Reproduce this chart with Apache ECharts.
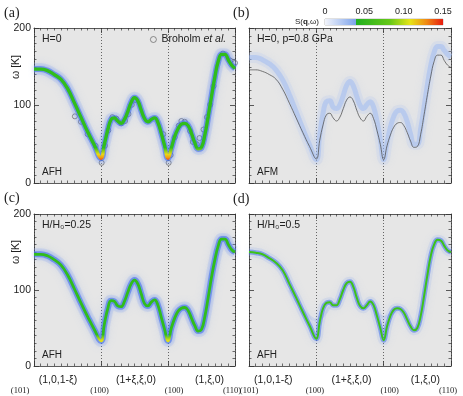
<!DOCTYPE html>
<html>
<head>
<meta charset="utf-8">
<script src="https://cdn.jsdelivr.net/npm/echarts@6/dist/echarts.min.js"></script>
<style>
  html, body { margin: 0; background: #fff; }
  #chart { width: 463px; height: 396px; }
</style>
</head>
<body>
<div id="chart"></div>
<script>
// q along the path (101)->(100)->(100)->(110), one unit per leg
var qPath = [0, 0.1, 0.2, 0.3, 0.4, 0.5, 0.6, 0.7, 0.8, 0.9, 1.0,
  1.05, 1.1, 1.15, 1.2, 1.25, 1.3, 1.35, 1.4, 1.45, 1.5, 1.55, 1.6, 1.65, 1.7, 1.75, 1.8, 1.85, 1.9, 1.95, 2.0,
  2.05, 2.1, 2.15, 2.2, 2.25, 2.3, 2.35, 2.4, 2.45, 2.5, 2.55, 2.6, 2.65, 2.7, 2.75, 2.8, 2.85, 2.9, 2.95, 3.0];
// (a) H=0
var omegaH0 = [147, 147, 145, 140, 134, 122, 104, 85, 66, 49, 32,
  50, 68, 82, 84, 80, 77, 82, 92, 104, 110, 106, 94, 83, 79, 82, 84, 78, 64, 48, 32,
  45, 60, 70, 76, 77, 74, 64, 52, 44, 46, 62, 86, 112, 137, 157, 166, 166, 159, 152, 148];
// (b) p=0.8 GPa, and the ambient curve drawn thin
var omegaP = [162, 162, 159, 154, 146, 133, 114, 92, 70, 49, 30,
  62, 90, 105, 106, 98, 96, 101, 113, 126, 131, 125, 112, 100, 96, 101, 105, 98, 80, 56, 30,
  52, 72, 86, 93, 94, 90, 79, 63, 50, 50, 70, 98, 127, 152, 169, 176, 176, 171, 166, 163];
var omegaRef = [146, 146, 144, 140, 134, 121, 103, 84, 65, 47, 31,
  55, 75, 88, 90, 84, 80, 85, 96, 107, 111, 106, 94, 84, 80, 86, 90, 83, 68, 50, 30,
  48, 62, 72, 77, 78, 74, 65, 54, 46, 47, 63, 88, 114, 138, 157, 165, 165, 158, 152, 149];
// (c) H/H0=0.25
var omegaC = [147, 147, 145, 140, 133, 120, 102, 83, 65, 48, 33,
  55, 75, 86, 85, 79, 78, 85, 97, 108, 113, 108, 95, 82, 79, 84, 87, 80, 64, 48, 33,
  50, 63, 72, 76, 77, 73, 63, 53, 46, 48, 65, 90, 117, 140, 158, 167, 167, 160, 153, 150];
// (d) H/H0=0.5
var omegaD = [150, 149, 147, 142, 136, 126, 108, 90, 71, 53, 36,
  58, 76, 83, 84, 80, 80, 88, 100, 109, 111, 104, 90, 79, 76, 80, 85, 80, 66, 50, 34,
  52, 66, 74, 76, 75, 70, 61, 52, 47, 50, 66, 92, 120, 145, 160, 166, 165, 158, 152, 150];
// faint extra branches in (d)
var qGhost1 = [0.6, 0.7, 0.8, 0.9, 1.0, 1.1, 1.2];
var wGhost1 = [100, 86, 74, 65, 60, 66, 78];
var qGhost2 = [1.85, 1.9, 2.0, 2.1, 2.2];
var wGhost2 = [78, 70, 64, 68, 74];
// Broholm et al. data points
var qExp = [0.61, 0.70, 0.80, 0.92, 1.01, 1.06, 1.11, 1.17, 1.23, 1.30, 1.36, 1.41, 1.46, 1.51,
  1.93, 2.01, 2.04, 2.10, 2.16, 2.20, 2.25, 2.33, 2.37, 2.43, 2.47, 2.53, 2.58, 2.63, 2.68, 2.82, 2.93, 3.0];
var wExp = [86, 79, 63, 48, 26, 48, 68, 85, 83, 77, 80, 89, 101, 107,
  63, 26, 36, 59, 74, 80, 79, 67, 53, 50, 58, 69, 85, 101, 125, 167, 158, 155];
var pathLabels = ['(101)', '(1,0,1-ξ)', '(100)', '(1+ξ,ξ,0)', '(100)', '(1,ξ,0)', '(110)'];
var cbTicks = [0, 0.05, 0.10, 0.15];

var chart = echarts.init(document.getElementById('chart'));

function pts(q, w) {
  return q.map(function (v, i) { return [v, w[i]]; });
}
// vertical colour ramp over the branch's own energy range: green, yellow and red at the soft minima
function heat(w, levels, colors) {
  var hi = Math.max.apply(null, w), lo = Math.min.apply(null, w);
  var off = function (v) { return Math.min(1, Math.max(0, (hi - v) / (hi - lo))); };
  var stops = [{offset: 0, color: colors[0]}];
  levels.forEach(function (v, k) { stops.push({offset: off(v), color: colors[k]}); });
  stops.push({offset: 1, color: colors[colors.length - 1]});
  return new echarts.graphic.LinearGradient(0, 0, 0, 1, stops);
}

var grids = [
  {left: 34, top: 28, width: 201, height: 155},
  {left: 249, top: 28, width: 202, height: 155},
  {left: 34, top: 214, width: 201, height: 152},
  {left: 249, top: 214, width: 202, height: 152}
];
var ink = '#333';
var xAxes = [], yAxes = [], series = [];

grids.forEach(function (g, i) {
  g.show = true;
  g.backgroundColor = '#e6e6e6';
  g.borderWidth = 0;
  ['bottom', 'top'].forEach(function (pos) {
    xAxes.push({
      type: 'value', gridIndex: i, min: 0, max: 3, interval: 1, position: pos,
      axisLine: {onZero: false, lineStyle: {color: ink, width: 0.8}},
      axisTick: {inside: true, length: 5, lineStyle: {color: ink, width: 0.8}},
      minorTick: {show: true, splitNumber: 10, length: 2.5, lineStyle: {color: ink, width: 0.7}},
      axisLabel: {show: false},
      splitLine: {show: pos === 'bottom', lineStyle: {color: '#444', type: [1, 2], width: 0.8}}
    });
  });
  ['left', 'right'].forEach(function (pos) {
    yAxes.push({
      type: 'value', gridIndex: i, min: 0, max: 200, interval: 100, position: pos,
      axisLine: {onZero: false, lineStyle: {color: ink, width: 0.8}},
      axisTick: {inside: true, length: 5, lineStyle: {color: ink, width: 0.8}},
      minorTick: {show: true, splitNumber: 10, length: 2.5, lineStyle: {color: ink, width: 0.7}},
      axisLabel: {show: pos === 'left' && i % 2 === 0, fontSize: 10.5, color: '#222', margin: 3,
        fontFamily: 'Liberation Sans'},
      splitLine: {show: false}
    });
  });
});

function band(i, w, q, styles) {
  styles.forEach(function (ls) {
    series.push({
      type: 'line', xAxisIndex: 2 * i, yAxisIndex: 2 * i, data: pts(q, w),
      smooth: 0.45, showSymbol: false, silent: true, lineStyle: ls
    });
  });
}

var halo = [
  {width: 12, color: 'rgba(120,155,240,0.16)', shadowBlur: 10, shadowColor: 'rgba(110,150,240,0.55)'},
  {width: 6, color: 'rgba(70,115,235,0.6)', shadowBlur: 4, shadowColor: 'rgba(70,115,235,0.6)'}
];
// (a)
band(0, omegaH0, qPath, halo);
band(0, omegaH0, qPath, [{width: 3.4, color: heat(omegaH0, [54, 48, 40, 36],
  ['#30bd1c', '#30bd1c', '#e6da18', '#f0a014', '#ec3410'])}]);
series.push({
  name: 'Broholm et al.', type: 'scatter', xAxisIndex: 0, yAxisIndex: 0,
  data: pts(qExp, wExp), symbol: 'circle', symbolSize: 5, silent: true,
  itemStyle: {color: 'rgba(230,230,230,0.2)', borderColor: '#555', borderWidth: 0.8}
});
// (b)
band(1, omegaP, qPath, [
  {width: 11, color: 'rgba(165,190,245,0.18)', shadowBlur: 8, shadowColor: 'rgba(150,180,245,0.45)'},
  {width: 5, color: 'rgba(150,182,244,0.45)'}
]);
band(1, omegaRef, qPath, [{width: 0.8, color: '#555'}]);
// (c)
band(2, omegaC, qPath, halo);
band(2, omegaC, qPath, [{width: 2.8, color: heat(omegaC, [50, 44, 37, 34],
  ['#30bd1c', '#30bd1c', '#dcde1a', '#dcde1a', '#f0a818'])}]);
// (d)
band(3, wGhost1, qGhost1, [{width: 3, color: 'rgba(120,155,240,0.18)'}]);
band(3, wGhost2, qGhost2, [{width: 3, color: 'rgba(120,155,240,0.18)'}]);
band(3, omegaD, qPath, [
  {width: 10, color: 'rgba(120,155,240,0.14)', shadowBlur: 8, shadowColor: 'rgba(110,150,240,0.5)'},
  {width: 5, color: 'rgba(70,115,235,0.55)'}
]);
band(3, omegaD, qPath, [{width: 2, color: '#3cc21a'}]);

// colour bar
grids.push({left: 325, top: 19, width: 118, height: 6, show: true, borderColor: '#999', borderWidth: 0.6});
xAxes.push({
  type: 'value', gridIndex: 4, min: 0, max: 0.15, interval: 0.05, position: 'top',
  axisLine: {show: false}, axisTick: {show: false}, splitLine: {show: false},
  axisLabel: {fontSize: 9, color: '#222', margin: 3, fontFamily: 'Liberation Sans',
    formatter: function (v) { return v === 0 ? '0' : v.toFixed(2); }}
});
yAxes.push({type: 'category', gridIndex: 4, data: ['S'], show: false});
series.push({
  type: 'bar', xAxisIndex: 8, yAxisIndex: 8, data: [cbTicks[3]], barWidth: '100%', silent: true,
  itemStyle: {color: new echarts.graphic.LinearGradient(0, 0, 1, 0, [
    {offset: 0, color: '#f2f4fa'}, {offset: 0.26, color: '#7ea4ec'},
    {offset: 0.265, color: '#22b020'}, {offset: 0.55, color: '#66c818'},
    {offset: 0.72, color: '#e6e418'}, {offset: 0.86, color: '#f08a14'}, {offset: 1, color: '#e81c10'}
  ])}
});

// path labels under (c) and (d)
function labRich(firstPad) {
  var pads = [firstPad, [0, 19, 0, 0], [11, 3, 0, 0], [0, 0, 0, 3], [11, 0, 0, 12], [0, 0, 0, 16], [11, 6, 0, 0]];
  var rich = {};
  pads.forEach(function (p, k) {
    rich['l' + k] = k % 2 === 0
      ? {fontFamily: 'Liberation Serif', fontSize: 8.5, color: '#222', padding: p}
      : {fontFamily: 'Liberation Sans', fontSize: 10.5, color: '#222', padding: p};
  });
  return rich;
}
[[2, [11, 28, 0, 0]], [3, [11, 0, 0, 0]]].forEach(function (it) {
  var g = grids[it[0]];
  grids.push({left: g.left, top: g.top, width: g.width, height: g.height, show: false});
  var idx = grids.length - 1;
  xAxes.push({
    type: 'category', gridIndex: idx, data: pathLabels, boundaryGap: false, position: 'bottom',
    axisLine: {show: false}, axisTick: {show: false}, splitLine: {show: false},
    axisLabel: {interval: 0, margin: 9, rich: labRich(it[1]),
      formatter: function (v, k) { return '{l' + k + '|' + v + '}'; }}
  });
  yAxes.push({type: 'value', gridIndex: idx, show: false});
});

function label(x, y, s, font, extra) {
  var style = {text: s, font: font, fill: '#222', verticalAlign: 'middle'};
  for (var k in extra || {}) style[k] = extra[k];
  return {type: 'text', x: x, y: y, style: style, silent: true, z: 100};
}
var serif = '14px "Liberation Serif"';
var sans = '10.5px "Liberation Sans", "DejaVu Sans"';
var graphic = [
  label(4, 13, '(a)', serif), label(233, 13, '(b)', serif),
  label(4, 198, '(c)', serif), label(233, 199, '(d)', serif),
  label(42, 39, 'H=0', sans), label(257, 39, 'H=0, p=0.8 GPa', sans),
  label(42, 225, 'H/H₀=0.25', sans), label(257, 225, 'H/H₀=0.5', sans),
  label(42, 172, 'AFH', '10px "Liberation Sans"'), label(257, 172, 'AFM', '10px "Liberation Sans"'),
  label(42, 355, 'AFH', '10px "Liberation Sans"'), label(257, 355, 'AFH', '10px "Liberation Sans"'),
  label(319, 22, 'S({b|q},ω)', '8px "Liberation Sans"',
    {align: 'right', rich: {b: {fontWeight: 'bold', fontSize: 8, fontFamily: 'Liberation Sans'}}})
];
[67, 252].forEach(function (y) {
  var t = label(16, y, 'ω [K]', sans, {align: 'center'});
  t.rotation = Math.PI / 2;
  graphic.push(t);
});

chart.setOption({
  animation: false,
  grid: grids,
  xAxis: xAxes,
  yAxis: yAxes,
  legend: {
    data: ['Broholm et al.'], left: 150, top: 34, itemWidth: 6, itemHeight: 6, itemGap: 4, padding: 0,
    itemStyle: {borderWidth: 0.8},
    formatter: function () { return 'Broholm {i|et al.}'; },
    textStyle: {fontSize: 10.5, color: '#222', fontFamily: 'Liberation Sans',
      rich: {i: {fontStyle: 'italic', fontSize: 10.5, color: '#222', fontFamily: 'Liberation Sans'}}}
  },
  graphic: graphic,
  series: series
});
window.addEventListener('resize', function () { chart.resize(); });
</script>
</body>
</html>
